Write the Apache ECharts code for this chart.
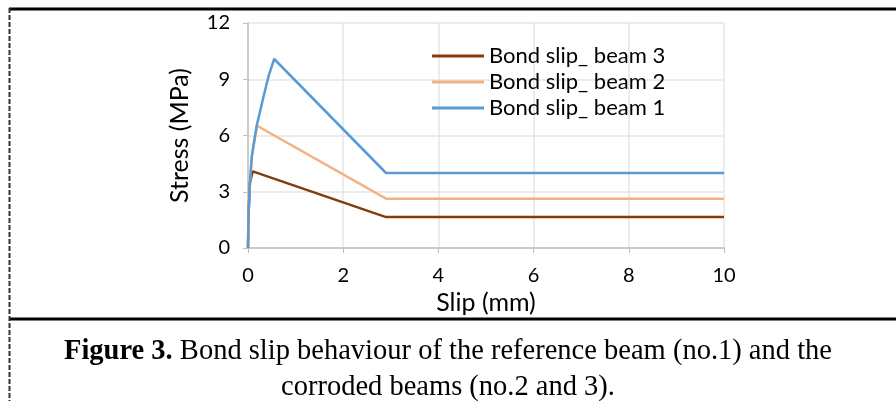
<!DOCTYPE html>
<html>
<head>
<meta charset="utf-8">
<script src="https://cdn.jsdelivr.net/npm/echarts@6/dist/echarts.min.js"></script>
<style>
  html, body { margin: 0; padding: 0; background: #fff; }
  #main { width: 896px; height: 401px; }
</style>
</head>
<body>
<div id="main"></div>
<script>
// 数据
var beam1Slip = [0, 0.01, 0.04, 0.08, 0.18, 0.31, 0.43, 0.55, 2.9, 10];
var beam1Stress = [0, 1.69, 3.47, 4.89, 6.49, 7.9, 9.15, 10.08, 4.0, 4.0];
var beam2Slip = [0, 0.01, 0.04, 0.08, 0.19, 2.9, 10];
var beam2Stress = [0, 1.69, 3.47, 4.89, 6.52, 2.63, 2.63];
var beam3Slip = [0, 0.01, 0.04, 0.1, 2.9, 10];
var beam3Stress = [0, 1.69, 3.47, 4.09, 1.65, 1.65];
var seriesNames = ['Bond slip_ beam 3', 'Bond slip_ beam 2', 'Bond slip_ beam 1'];
var seriesColors = ['#843C0C', '#F4B183', '#5B9BD5'];

function pairs(xs, ys) {
  return xs.map(function (x, i) { return [x, ys[i]]; });
}

var myChart = echarts.init(document.getElementById('main'));

var tickFont = { fontFamily: 'Lato', fontSize: 20, color: '#000' };

var option = {
  animation: false,
  grid: { left: 248, right: 172, top: 23, bottom: 153 },
  legend: {
    data: seriesNames,
    orient: 'vertical',
    left: 427,
    top: 40,
    icon: 'path://M0,0H52V3H0Z',
    itemWidth: 52,
    itemHeight: 3,
    itemGap: 4,
    textStyle: { fontFamily: 'Lato', fontSize: 22, lineHeight: 22, color: '#000' }
  },
  xAxis: {
    type: 'value',
    min: 0, max: 10, interval: 2,
    name: 'Slip (mm)',
    nameLocation: 'middle',
    nameGap: 38,
    nameTextStyle: { fontFamily: 'Lato', fontSize: 25, color: '#000' },
    axisLine: { lineStyle: { color: '#BFBFBF', width: 1.5 } },
    axisTick: { show: true, length: 5, lineStyle: { color: '#BFBFBF' } },
    axisLabel: Object.assign({ margin: 18 }, tickFont),
    splitLine: { show: true, lineStyle: { color: '#E6E6E6', width: 1.5 } }
  },
  yAxis: {
    type: 'value',
    min: 0, max: 12, interval: 3,
    name: 'Stress (MPa)',
    nameLocation: 'middle',
    nameGap: 56,
    nameTextStyle: { fontFamily: 'Lato', fontSize: 25, color: '#000' },
    axisLine: { show: true, lineStyle: { color: '#BFBFBF', width: 1.5 } },
    axisTick: { show: true, length: 5, lineStyle: { color: '#BFBFBF' } },
    axisLabel: Object.assign({ margin: 18 }, tickFont),
    splitLine: { show: true, lineStyle: { color: '#E6E6E6', width: 1.5 } }
  },
  series: [
    { name: seriesNames[0], type: 'line', symbol: 'none', data: pairs(beam3Slip, beam3Stress),
      lineStyle: { color: seriesColors[0], width: 2.5 }, itemStyle: { color: seriesColors[0] } },
    { name: seriesNames[1], type: 'line', symbol: 'none', data: pairs(beam2Slip, beam2Stress),
      lineStyle: { color: seriesColors[1], width: 2.5 }, itemStyle: { color: seriesColors[1] } },
    { name: seriesNames[2], type: 'line', symbol: 'none', data: pairs(beam1Slip, beam1Stress),
      lineStyle: { color: seriesColors[2], width: 2.5 }, itemStyle: { color: seriesColors[2] } }
  ],
  graphic: [
    // 边框
    { type: 'line', shape: { x1: 9, y1: 9, x2: 896, y2: 9 }, style: { stroke: '#000', lineWidth: 3 } },
    { type: 'line', shape: { x1: 9, y1: 319, x2: 896, y2: 319 }, style: { stroke: '#000', lineWidth: 3 } },
    { type: 'line', shape: { x1: 9.5, y1: 8, x2: 9.5, y2: 401 }, style: { stroke: '#333', lineWidth: 2, lineDash: [5, 2] } },
    // 图注
    {
      type: 'text', left: 'center', top: 337,
      style: {
        text: '{b|Figure 3.} Bond slip behaviour of the reference beam (no.1) and the',
        font: '28.5px "Liberation Serif"', fill: '#000',
        rich: { b: { fontFamily: 'Liberation Serif', fontSize: 28.5, fontWeight: 'bold', fill: '#000' } }
      }
    },
    {
      type: 'text', left: 'center', top: 373,
      style: { text: 'corroded beams (no.2 and 3).', font: '28.5px "Liberation Serif"', fill: '#000' }
    }
  ]
};

myChart.setOption(option);
</script>
</body>
</html>
